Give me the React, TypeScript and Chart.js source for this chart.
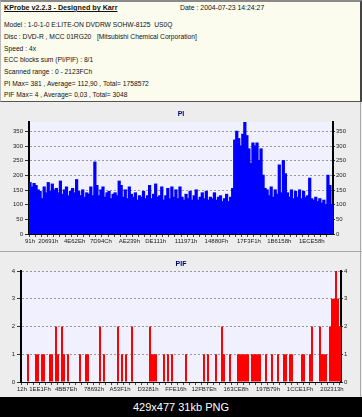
import React, { useEffect, useRef } from 'react';
import { Chart, registerables } from 'chart.js';

Chart.register(...registerables);

// ---------- header text ----------
const headerTitle = 'KProbe v2.2.3 - Designed by Karr';
const headerDate = 'Date : 2004-07-23 14:24:27';
const headerLines = [
  'Model : 1-0-1-0 E:LITE-ON DVDRW SOHW-8125  US0Q',
  'Disc : DVD-R , MCC 01RG20   [Mitsubishi Chemical Corporation]',
  'Speed : 4x',
  'ECC blocks sum (PI/PIF) : 8/1',
  'Scanned range : 0 - 2123FCh',
  'PI Max= 381 , Average= 112,90 , Total= 1758572',
  'PIF Max= 4 , Average= 0,03 , Total= 3048',
];
const caption = '429x477 31kb PNG';
const scanEnd = 0x2123fc;

// ---------- PI data ----------
const piTickLabels = ['91h', '20691h', '4E62Eh', '7D94Ch', 'AE239h', 'DE111h', '111971h', '14880Fh', '17F3F1h', '1B6158h', '1ECE58h'];
const piValues = [
  175, 160, 172, 165, 150, 145, 120, 160, 140, 175, 145, 170, 150, 155, 140, 180,
  135, 150, 160, 130, 145, 155, 140, 185, 145, 130, 150, 125, 140, 135, 160, 130,
  245,
  165, 130, 150, 160, 125, 140, 145, 120, 135, 140, 130, 180,
  165, 125, 150, 120, 160, 135, 125, 140, 115, 130, 125, 145, 120, 130, 165, 120,
  135, 170, 125, 130, 160, 115, 130, 155, 120, 160, 125, 150, 120, 160, 125, 115,
  135, 120, 145, 115, 130, 150, 115, 125, 140, 120, 145, 115, 125, 120, 140, 115,
  125, 130, 110, 120, 135, 110, 125, 155,
  320, 350, 325, 300, 340, 381, 335, 290, 240, 310, 300, 310, 250, 290, 200, 155,
  150, 130, 160, 125, 150, 135, 235, 140, 250, 205, 140, 125, 150, 120, 145, 125,
  150, 120, 145, 125, 130, 190, 120, 115, 125, 110, 120, 105, 115, 100, 200, 165,
  100,
];
const piMax = 382;
const piStep = 50;

// ---------- PIF data ----------
const pifTickLabels = ['12h', '1EE1Fh', '4BB7Eh', '78692h', 'A53F1h', 'D3281h', 'FFE16h', '12FB7Eh', '163CE8h', '197B79h', '1CCE1Fh', '202313h'];
const pifValues = [
  0, 0, 0, 1, 0, 0, 0, 1, 1, 0, 1, 1, 0, 0, 1, 1, 0, 2, 1, 0,
  2, 1, 0, 1, 0, 0, 0, 0, 0, 1, 0, 0, 1, 1, 0, 0, 0, 0, 0, 2,
  0, 1, 0, 0, 0, 0, 0, 0, 2, 0, 1, 0, 1, 0, 0, 2, 0, 0, 0, 0,
  0, 0, 0, 0, 2, 1, 1, 1, 0, 0, 0, 1, 0, 1, 0, 1, 0, 0, 0, 0,
  0, 0, 1, 0, 0, 0, 0, 0, 0, 0, 0, 1, 0, 1, 0, 0, 0, 1, 0, 0,
  2, 1, 0, 0, 1, 0, 0, 0, 1, 1, 1, 1, 1, 1, 0, 1, 1, 1, 1, 1,
  0, 0, 1, 0, 0, 1, 0, 0, 1, 0, 0, 1, 1, 0, 1, 1, 0, 0, 0, 0,
  1, 1, 0, 0, 1, 2, 0, 0, 0, 2, 1, 1, 1, 0, 2, 3, 3, 4, 3, 2,
];
const pifMax = 4;
const pifStep = 1;

const FONT = 'Liberation Sans';

const plotBg = {
  id: 'plotBg',
  beforeDraw(chart: any) {
    const { ctx, chartArea: a } = chart;
    ctx.save();
    ctx.fillStyle = '#f0f0ff';
    ctx.fillRect(a.left, a.top, a.right - a.left, a.bottom - a.top);
    ctx.restore();
  },
};

type Cfg = {
  values: number[];
  tickLabels: string[];
  color: string;
  max: number;
  step: number;
  leftW: number;
  rightW: number;
  xH: number;
  title: string;
  titleTop: number;
  titleBottom: number;
  barPct: number;
  inflate: number;
};

// place each hex address label at the bar whose centre matches that address
function categoryLabels(values: number[], tickLabels: string[]) {
  const n = values.length;
  const cats = values.map(() => '');
  tickLabels.forEach((t) => {
    const lba = parseInt(t, 16);
    const idx = Math.max(0, Math.min(n - 1, Math.round((lba / scanEnd) * n - 0.5)));
    cats[idx] = t;
  });
  return cats;
}

function buildChart(canvas: HTMLCanvasElement, c: Cfg) {
  const cats = categoryLabels(c.values, c.tickLabels);
  const tickFont = { family: FONT, size: 6 };
  return new Chart(canvas, {
    type: 'bar',
    data: {
      labels: cats,
      datasets: [
        {
          data: c.values,
          backgroundColor: c.color,
          borderWidth: 0,
          barPercentage: c.barPct,
          categoryPercentage: 1,
          inflateAmount: c.inflate,
          yAxisID: 'y',
        },
      ],
    },
    options: {
      responsive: false,
      animation: false,
      events: [],
      layout: { padding: 0 },
      plugins: {
        legend: { display: false },
        tooltip: { enabled: false },
        title: {
          display: true,
          text: c.title,
          color: '#000080',
          font: { family: FONT, size: 7, weight: 'bold', lineHeight: 1.2 },
          padding: { top: c.titleTop, bottom: c.titleBottom },
        },
      },
      scales: {
        x: {
          type: 'category',
          offset: true,
          grid: {
            display: true,
            drawOnChartArea: false,
            drawTicks: true,
            tickLength: 3,
            tickColor: (ctx: any) => (ctx.index % 3 === 0 ? '#444' : 'rgba(0,0,0,0)'),
          },
          border: { display: true, color: '#000', width: 1 },
          ticks: {
            autoSkip: false,
            maxRotation: 0,
            minRotation: 0,
            padding: 1,
            font: tickFont,
            color: '#222',
          },
          afterFit: (s: any) => {
            s.height = c.xH;
          },
        },
        y: {
          position: 'left',
          min: 0,
          max: c.max,
          ticks: { stepSize: c.step, includeBounds: false, padding: 2, font: tickFont, color: '#222' },
          grid: { color: '#9a9a9a', lineWidth: 1, tickLength: 4, tickColor: '#333' },
          border: { display: true, color: '#000', width: 2, dash: [2, 2] },
          afterFit: (s: any) => {
            s.width = c.leftW;
          },
        },
        y2: {
          position: 'right',
          min: 0,
          max: c.max,
          ticks: { stepSize: c.step, includeBounds: false, padding: 1, font: tickFont, color: '#222' },
          grid: { drawOnChartArea: false, tickLength: 2, tickColor: '#333' },
          border: { display: true, color: '#000', width: 2 },
          afterFit: (s: any) => {
            s.width = c.rightW;
          },
        },
      },
    },
    plugins: [plotBg],
  } as any);
}

function ChartCanvas({ cfg, top, height }: { cfg: Cfg; top: number; height: number }) {
  const ref = useRef<HTMLCanvasElement | null>(null);
  useEffect(() => {
    if (!ref.current) return;
    const ch = buildChart(ref.current, cfg);
    return () => ch.destroy();
  }, []);
  return (
    <canvas
      ref={ref}
      width={362}
      height={height}
      style={{ position: 'absolute', left: 0, top, width: 362, height, display: 'block' }}
    />
  );
}

const piCfg: Cfg = {
  values: piValues,
  tickLabels: piTickLabels,
  color: '#0000ff',
  max: piMax,
  step: piStep,
  leftW: 29,
  rightW: 29,
  xH: 17,
  title: 'PI',
  titleTop: 8,
  titleBottom: 3.6,
  barPct: 1,
  inflate: 0.6,
};

const pifCfg: Cfg = {
  values: pifValues,
  tickLabels: pifTickLabels,
  color: '#ff0000',
  max: pifMax,
  step: pifStep,
  leftW: 21,
  rightW: 21,
  xH: 15,
  title: 'PIF',
  titleTop: 7.8,
  titleBottom: 2.8,
  barPct: 1,
  inflate: 0,
};

export default function App() {
  useEffect(() => {
    document.body.style.margin = '0';
  }, []);
  const txt: React.CSSProperties = {
    position: 'absolute',
    fontFamily: FONT,
    fontSize: 6.7,
    color: '#111',
    whiteSpace: 'pre',
    lineHeight: '11.7px',
  };
  return (
    <div style={{ position: 'relative', width: 362, height: 417, overflow: 'hidden', background: '#ededed', margin: 0 }}>
      {/* header */}
      <div
        style={{
          position: 'absolute',
          left: 0,
          top: 0,
          width: 362,
          height: 102,
          background: '#fcfcee',
          borderTop: '2px solid #8a8a8a',
          borderRight: '2px solid #444',
          borderBottom: '1px solid #555',
          borderLeft: '1px solid #bbb',
          boxSizing: 'border-box',
        }}
      />
      <div
        style={{
          ...txt,
          left: 4,
          top: 2,
          fontWeight: 'bold',
          fontSize: 7.2,
          textDecoration: 'underline',
        }}
      >
        {headerTitle}
      </div>
      <div style={{ ...txt, left: 180, top: 2, fontSize: 6.9 }}>{headerDate}</div>
      <div style={{ ...txt, left: 4, top: 19.2 }}>
        {headerLines.map((l, i) => (
          <div key={i}>{l}</div>
        ))}
      </div>

      {/* PI panel */}
      <ChartCanvas cfg={piCfg} top={102} height={149} />
      <div style={{ position: 'absolute', left: 0, top: 251, width: 362, height: 1, background: '#a8a8a8' }} />
      {/* PIF panel */}
      <ChartCanvas cfg={pifCfg} top={252} height={145} />
      <div style={{ position: 'absolute', left: 360, top: 102, width: 1, height: 295, background: '#aaa' }} />

      {/* bottom caption bar */}
      <div
        style={{
          position: 'absolute',
          left: 0,
          top: 397,
          width: 362,
          height: 20,
          background: '#000',
          color: '#fff',
          fontFamily: FONT,
          fontSize: 11,
          lineHeight: '20px',
          textAlign: 'center',
        }}
      >
        {caption}
      </div>
    </div>
  );
}
